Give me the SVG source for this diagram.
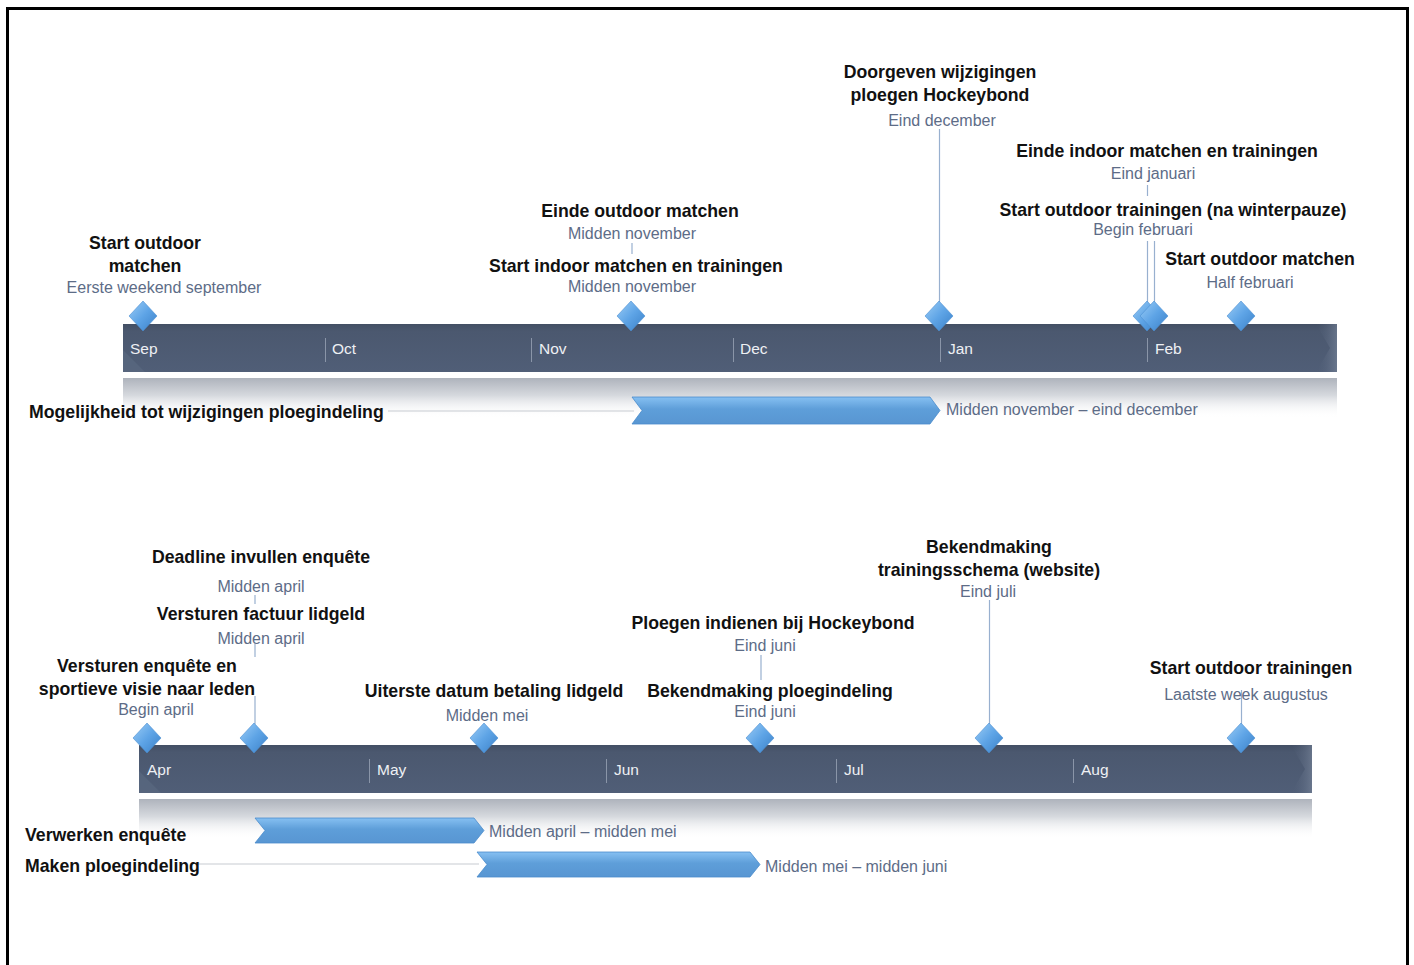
<svg xmlns="http://www.w3.org/2000/svg" width="1414" height="965" viewBox="0 0 1414 965">
<defs>
<linearGradient id="barG" x1="0" y1="0" x2="0" y2="1">
<stop offset="0" stop-color="#434f64"/>
<stop offset="0.15" stop-color="#4b586f"/>
<stop offset="1" stop-color="#505e77"/>
</linearGradient>
<linearGradient id="reflG" x1="0" y1="0" x2="0" y2="1">
<stop offset="0" stop-color="#aeb3bc"/>
<stop offset="0.35" stop-color="#d6d9de"/>
<stop offset="0.8" stop-color="#ffffff" stop-opacity="0"/>
</linearGradient>
<linearGradient id="diaG" x1="0" y1="0" x2="1" y2="1">
<stop offset="0" stop-color="#9ccdf6"/>
<stop offset="0.5" stop-color="#5ea4e6"/>
<stop offset="1" stop-color="#3a80c8"/>
</linearGradient>
<linearGradient id="chevG" x1="0" y1="0" x2="0" y2="1">
<stop offset="0" stop-color="#86c0f2"/>
<stop offset="0.45" stop-color="#5e9ed9"/>
<stop offset="1" stop-color="#5896d2"/>
</linearGradient>
<linearGradient id="endG" x1="0" y1="0" x2="1" y2="0">
<stop offset="0" stop-color="#505e77" stop-opacity="0"/>
<stop offset="1" stop-color="#7a879c"/>
</linearGradient>
<style>
.t{font-family:"Liberation Sans",Arial,sans-serif;font-weight:bold;font-size:17.7px;fill:#111;}
.s{font-family:"Liberation Sans",Arial,sans-serif;font-size:16px;fill:#5d6c87;}
.m{font-family:"Liberation Sans",Arial,sans-serif;font-size:15.5px;fill:#eef0f4;}
.c{text-anchor:middle;}
.dv{stroke:#8a95a8;stroke-width:1;}
.ln{stroke:#98b0cf;stroke-width:1.2;fill:none;}
.gl{stroke:#c8ccd2;stroke-width:1.2;}
.dia{fill:url(#diaG);stroke:#4c8ed2;stroke-width:0.6;}
.chev{fill:url(#chevG);stroke:#4a8ccc;stroke-width:0.8;}
</style>
</defs>
<rect x="0" y="0" width="1414" height="965" fill="#fff"/>
<path d="M7.5,970 V8.5 H1407.5 V970" fill="none" stroke="#000" stroke-width="3"/>

<!-- Top timeline -->
<g id="timeline-top">
<rect x="123" y="378" width="1214" height="50" fill="url(#reflG)"/>
<rect x="123" y="324" width="1214" height="48" fill="url(#barG)"/>
<polygon points="1316,324 1337,324 1337,372 1316,372 1330,348" fill="url(#endG)" opacity="0.6"/>
<polygon points="123,350 123,372 145,372" fill="#5c6a82" opacity="0.6"/>
<line class="dv" x1="325.5" y1="338" x2="325.5" y2="362"/>
<line class="dv" x1="531.5" y1="338" x2="531.5" y2="362"/>
<line class="dv" x1="733.5" y1="338" x2="733.5" y2="362"/>
<line class="dv" x1="940.5" y1="338" x2="940.5" y2="362"/>
<line class="dv" x1="1147.5" y1="338" x2="1147.5" y2="362"/>
<text class="m" x="130" y="354">Sep</text>
<text class="m" x="332" y="354">Oct</text>
<text class="m" x="539" y="354">Nov</text>
<text class="m" x="740" y="354">Dec</text>
<text class="m" x="948" y="354">Jan</text>
<text class="m" x="1155" y="354">Feb</text>
</g>

<!-- Bottom timeline -->
<g id="timeline-bottom">
<rect x="139" y="799" width="1173" height="50" fill="url(#reflG)"/>
<rect x="139" y="745" width="1173" height="48" fill="url(#barG)"/>
<polygon points="1291,745 1312,745 1312,793 1291,793 1305,769" fill="url(#endG)" opacity="0.6"/>
<polygon points="139,771 139,793 161,793" fill="#5c6a82" opacity="0.6"/>
<line class="dv" x1="369.5" y1="759" x2="369.5" y2="783"/>
<line class="dv" x1="606.5" y1="759" x2="606.5" y2="783"/>
<line class="dv" x1="836.5" y1="759" x2="836.5" y2="783"/>
<line class="dv" x1="1073.5" y1="759" x2="1073.5" y2="783"/>
<text class="m" x="147" y="775">Apr</text>
<text class="m" x="377" y="775">May</text>
<text class="m" x="614" y="775">Jun</text>
<text class="m" x="844" y="775">Jul</text>
<text class="m" x="1081" y="775">Aug</text>
</g>

<!-- Connectors -->
<g id="connectors">
<line class="ln" x1="632" y1="243" x2="632" y2="254"/>
<line class="ln" x1="939.5" y1="129" x2="939.5" y2="302"/>
<line class="ln" x1="1147.5" y1="185" x2="1147.5" y2="196"/>
<line class="ln" x1="1147.5" y1="241" x2="1147.5" y2="304"/>
<line class="ln" x1="1154.5" y1="241" x2="1154.5" y2="304"/>
<line class="gl" x1="388" y1="411" x2="634" y2="411"/>
<line class="ln" x1="255" y1="595" x2="255" y2="604"/>
<line class="ln" x1="255" y1="643" x2="255" y2="657"/>
<line class="ln" x1="255" y1="696" x2="255" y2="724"/>
<line class="ln" x1="761" y1="655" x2="761" y2="680"/>
<line class="ln" x1="989.5" y1="600" x2="989.5" y2="724"/>
<line class="ln" x1="1241.5" y1="690" x2="1241.5" y2="724"/>
<line class="gl" x1="198" y1="864" x2="479" y2="864"/>
</g>

<!-- Top nodes -->
<g id="n-start-outdoor-matchen-sep">
<text class="t c" x="145" y="249">Start outdoor</text>
<text class="t c" x="145" y="272">matchen</text>
<text class="s c" x="164" y="293">Eerste weekend september</text>
<polygon class="dia" points="143,301 157,316 143,331 129,316"/>
</g>
<g id="n-einde-outdoor">
<text class="t c" x="640" y="217">Einde outdoor matchen</text>
<text class="s c" x="632" y="239">Midden november</text>
</g>
<g id="n-start-indoor">
<text class="t c" x="636" y="272">Start indoor matchen en trainingen</text>
<text class="s c" x="632" y="292">Midden november</text>
<polygon class="dia" points="631,301 645,316 631,331 617,316"/>
</g>
<g id="n-doorgeven">
<text class="t c" x="940" y="78">Doorgeven wijzigingen</text>
<text class="t c" x="940" y="101">ploegen Hockeybond</text>
<text class="s c" x="942" y="126">Eind december</text>
<polygon class="dia" points="939,301 953,316 939,331 925,316"/>
</g>
<g id="n-einde-indoor">
<text class="t c" x="1167" y="157">Einde indoor matchen en trainingen</text>
<text class="s c" x="1153" y="179">Eind januari</text>
<polygon class="dia" points="1147,301 1161,316 1147,331 1133,316"/>
</g>
<g id="n-start-outdoor-trainingen-feb">
<text class="t c" x="1173" y="216">Start outdoor trainingen (na winterpauze)</text>
<text class="s c" x="1143" y="235">Begin februari</text>
<polygon class="dia" points="1154,301 1168,316 1154,331 1140,316"/>
</g>
<g id="n-start-outdoor-matchen-feb">
<text class="t c" x="1260" y="265">Start outdoor matchen</text>
<text class="s c" x="1250" y="288">Half februari</text>
<polygon class="dia" points="1241,301 1255,316 1241,331 1227,316"/>
</g>
<g id="n-mogelijkheid">
<text class="t" x="29" y="418">Mogelijkheid tot wijzigingen ploegindeling</text>
<polygon class="chev" points="632,397 930,397 940,410.5 930,424 632,424 642,410.5"/>
<text class="s" x="946" y="415">Midden november – eind december</text>
</g>

<!-- Bottom nodes -->
<g id="n-deadline">
<text class="t c" x="261" y="563">Deadline invullen enquête</text>
<text class="s c" x="261" y="592">Midden april</text>
</g>
<g id="n-factuur">
<text class="t c" x="261" y="620">Versturen factuur lidgeld</text>
<text class="s c" x="261" y="644">Midden april</text>
<polygon class="dia" points="254,723 268,738 254,753 240,738"/>
</g>
<g id="n-enquete">
<text class="t c" x="147" y="672">Versturen enquête en</text>
<text class="t c" x="147" y="695">sportieve visie naar leden</text>
<text class="s c" x="156" y="715">Begin april</text>
<polygon class="dia" points="147,723 161,738 147,753 133,738"/>
</g>
<g id="n-uiterste">
<text class="t c" x="494" y="697">Uiterste datum betaling lidgeld</text>
<text class="s c" x="487" y="721">Midden mei</text>
<polygon class="dia" points="484,723 498,738 484,753 470,738"/>
</g>
<g id="n-ploegen-indienen">
<text class="t c" x="773" y="629">Ploegen indienen bij Hockeybond</text>
<text class="s c" x="765" y="651">Eind juni</text>
</g>
<g id="n-bekendmaking-ploeg">
<text class="t c" x="770" y="697">Bekendmaking ploegindeling</text>
<text class="s c" x="765" y="717">Eind juni</text>
<polygon class="dia" points="760,723 774,738 760,753 746,738"/>
</g>
<g id="n-bekendmaking-training">
<text class="t c" x="989" y="553">Bekendmaking</text>
<text class="t c" x="989" y="576">trainingsschema (website)</text>
<text class="s c" x="988" y="597">Eind juli</text>
<polygon class="dia" points="989,723 1003,738 989,753 975,738"/>
</g>
<g id="n-start-outdoor-trainingen-aug">
<text class="t c" x="1251" y="674">Start outdoor trainingen</text>
<text class="s c" x="1246" y="700">Laatste week augustus</text>
<polygon class="dia" points="1241,723 1255,738 1241,753 1227,738"/>
</g>
<g id="n-verwerken">
<text class="t" x="25" y="841">Verwerken enquête</text>
<polygon class="chev" points="255,818 474,818 484,830.5 474,843 255,843 265,830.5"/>
<text class="s" x="489" y="837">Midden april – midden mei</text>
</g>
<g id="n-maken">
<text class="t" x="25" y="872">Maken ploegindeling</text>
<polygon class="chev" points="477,852 750,852 760,864.5 750,877 477,877 487,864.5"/>
<text class="s" x="765" y="872">Midden mei – midden juni</text>
</g>
</svg>
